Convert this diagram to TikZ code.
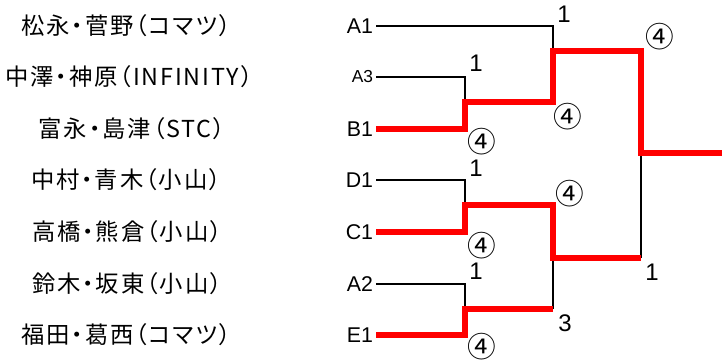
\documentclass[tikz,border=0pt]{standalone}
\usepackage{fontspec}
\setmainfont{Liberation Sans}
\newfontfamily\jpfont[RawFeature=+palt,LetterSpace=8]{Noto Sans CJK JP}
\newfontfamily\circfont{Noto Sans CJK JP}
\begin{document}
\begin{tikzpicture}[x=0.75pt,y=-0.75pt,
  team/.style={font=\jpfont\fontsize{17.5}{19}\selectfont, inner sep=0pt},
  code/.style={font=\fontsize{16}{18}\selectfont, inner xsep=2pt, inner ysep=0pt, anchor=east},
  smallcode/.style={code, font=\fontsize{13}{14}\selectfont},
  score/.style={font=\fontsize{18}{20}\selectfont, inner sep=0pt},
  circ/.style={font=\circfont\fontsize{21.5}{23}\selectfont, inner sep=0pt},
  blk/.style={line width=2pt, black},
  win/.style={line width=4.6pt, red}]
\useasboundingbox (0,0) rectangle (722,360);

% team names
\node[team] (n1) at (126,26) {松永・菅野（コマツ）};
\node[team] (n2) at (129,77) {中澤・神原（INFINITY）};
\node[team] (n3) at (132,129) {富永・島津（STC）};
\node[team] (n4) at (126,180) {中村・青木（小山）};
\node[team] (n5) at (127,232) {高橋・熊倉（小山）};
\node[team] (n6) at (127,284) {鈴木・坂東（小山）};
\node[team] (n7) at (126,335) {福田・葛西（コマツ）};

% codes
\node[code] (a1) at (376,26) {A1};
\node[smallcode] (a3) at (376,77) {A3};
\node[code] (b1) at (376,129) {B1};
\node[code] (d1) at (376,180) {D1};
\node[code] (c1) at (376,232) {C1};
\node[code] (a2) at (376,284) {A2};
\node[code] (e1) at (376,335) {E1};

% junctions
\coordinate (m1) at (465,102);
\coordinate (m2) at (553,51);
\coordinate (m3) at (465,205);
\coordinate (m4) at (465,309);
\coordinate (m4r) at (553,309);
\coordinate (m5) at (553,258);
\coordinate (sf) at (641,258);
\coordinate (f) at (641,153);
\coordinate (out) at (722,153);

% losers (black)
\draw[blk] (a1.east) -| (m2);
\draw[blk] (a3.east) -| (m1);
\draw[blk] (d1.east) -| (m3);
\draw[blk] (a2.east) -| (m4);
\draw[blk] (m4r) -- (m5);
\draw[blk] (sf) -- (f);

% winners (red)
\draw[win] (b1.east) -| (m1) -| (m2) -| (f) -- (out);
\draw[win] (c1.east) -| (m3) -| (m5) -- (sf);
\draw[win] (e1.east) -| (m4) -- (m4r);

% scores
\node[score] (s1) at (564,14) {1};
\node[circ] (s2) at (660,37) {④};
\node[score] (s3) at (476,63) {1};
\node[circ] (s4) at (568,117) {④};
\node[circ] (s5) at (482,142) {④};
\node[score] (s6) at (476,168) {1};
\node[circ] (s7) at (570,194) {④};
\node[circ] (s8) at (482,246) {④};
\node[score] (s9) at (476,271) {1};
\node[score] (s10) at (652,272) {1};
\node[score] (s11) at (565,323) {3};
\node[circ] (s12) at (482,347) {④};
\end{tikzpicture}
\end{document}
